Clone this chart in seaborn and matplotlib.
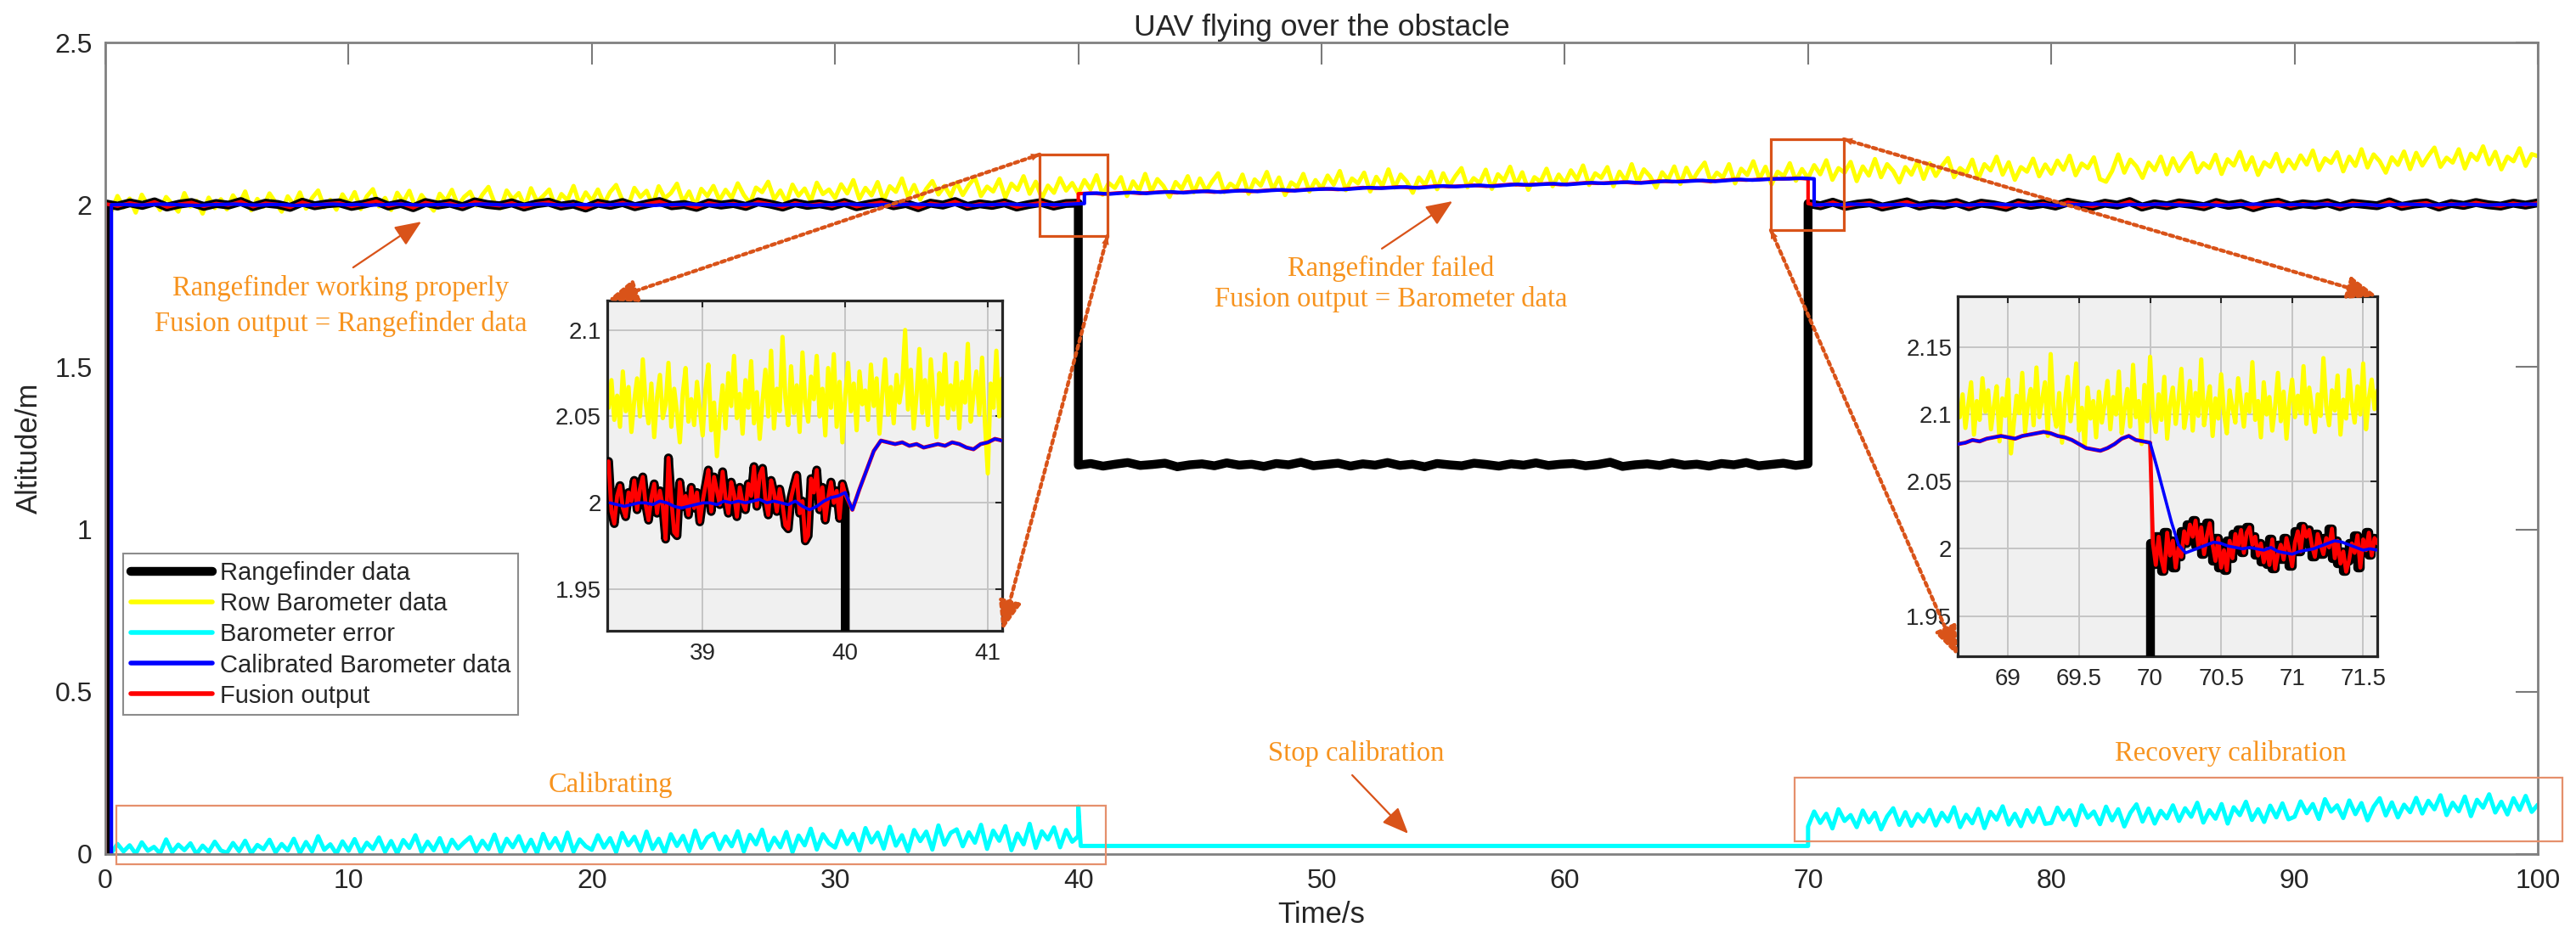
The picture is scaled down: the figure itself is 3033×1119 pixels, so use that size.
import numpy as np
import matplotlib
matplotlib.use("Agg")
import matplotlib.pyplot as plt
import seaborn as sns
from matplotlib.patches import Rectangle, ConnectionPatch
from matplotlib.ticker import FuncFormatter

# ---------------- DATA ----------------
# Row barometer altitude (m), t = 0 .. 100 s every 0.25 s
yellow_alt = [
    2.010, 1.981, 2.027, 1.992, 2.019, 1.976, 2.031, 1.998, 2.015, 1.984, 2.024, 2.002, 1.979, 2.036, 1.995, 2.012, 1.973, 2.022, 1.990, 2.017,
    1.986, 2.029, 2.001, 2.041, 1.983, 2.018, 1.994, 2.035, 2.007, 1.979, 2.026, 1.999, 2.038, 1.988, 2.021, 2.044, 1.992, 2.015, 1.985, 2.032,
    2.003, 2.039, 1.987, 2.026, 2.048, 1.995, 2.021, 1.984, 2.037, 2.009, 2.043, 1.991, 2.030, 2.005, 1.982, 2.034, 2.012, 2.046, 1.997, 2.024,
    2.040, 1.998, 2.031, 2.055, 2.006, 1.990, 2.044, 2.017, 2.036, 1.995, 2.051, 2.010, 2.027, 2.047, 1.993, 2.033, 2.014, 2.058, 2.001, 2.038,
    2.012, 2.047, 2.003, 2.039, 2.061, 2.015, 1.997, 2.052, 2.024, 2.043, 2.000, 2.057, 2.020, 2.036, 2.065, 2.009, 2.041, 1.996, 2.049, 2.027,
    2.058, 2.014, 2.046, 2.021, 2.066, 2.030, 2.005, 2.053, 2.039, 2.071, 2.017, 2.044, 2.008, 2.062, 2.028, 2.050, 2.011, 2.068, 2.033, 2.047,
    2.021, 2.063, 2.035, 2.076, 2.018, 2.052, 2.029, 2.070, 2.013, 2.057, 2.040, 2.081, 2.024, 2.061, 2.016, 2.049, 2.073, 2.032, 2.058, 2.026,
    2.069, 2.030, 2.061, 2.084, 2.027, 2.056, 2.041, 2.079, 2.022, 2.065, 2.046, 2.088, 2.034, 2.071, 2.020, 2.059, 2.037, 2.082, 2.044, 2.067,
    2.035, 2.076, 2.048, 2.091, 2.031, 2.067, 2.052, 2.085, 2.027, 2.072, 2.044, 2.095, 2.040, 2.079, 2.058, 2.024, 2.070, 2.049, 2.088, 2.038,
    2.081, 2.043, 2.072, 2.097, 2.039, 2.065, 2.051, 2.093, 2.034, 2.078, 2.059, 2.101, 2.047, 2.084, 2.030, 2.069, 2.055, 2.095, 2.041, 2.076,
    2.050, 2.090, 2.062, 2.104, 2.045, 2.081, 2.066, 2.099, 2.041, 2.086, 2.058, 2.109, 2.053, 2.093, 2.072, 2.037, 2.084, 2.061, 2.102, 2.048,
    2.097, 2.058, 2.088, 2.113, 2.054, 2.082, 2.067, 2.108, 2.049, 2.094, 2.075, 2.117, 2.062, 2.100, 2.046, 2.085, 2.071, 2.111, 2.057, 2.093,
    2.066, 2.106, 2.078, 2.121, 2.061, 2.097, 2.083, 2.116, 2.057, 2.102, 2.074, 2.125, 2.069, 2.109, 2.088, 2.053, 2.100, 2.077, 2.118, 2.064,
    2.114, 2.075, 2.105, 2.130, 2.071, 2.099, 2.084, 2.125, 2.066, 2.111, 2.092, 2.134, 2.079, 2.117, 2.063, 2.102, 2.088, 2.128, 2.074, 2.110,
    2.082, 2.122, 2.094, 2.137, 2.077, 2.113, 2.099, 2.132, 2.073, 2.118, 2.090, 2.141, 2.085, 2.125, 2.104, 2.069, 2.116, 2.093, 2.134, 2.080,
    2.128, 2.089, 2.119, 2.144, 2.085, 2.113, 2.098, 2.139, 2.080, 2.125, 2.106, 2.148, 2.093, 2.131, 2.077, 2.116, 2.102, 2.142, 2.088, 2.124,
    2.096, 2.136, 2.108, 2.151, 2.091, 2.127, 2.113, 2.146, 2.079, 2.071, 2.104, 2.155, 2.099, 2.139, 2.118, 2.083, 2.130, 2.107, 2.148, 2.094,
    2.143, 2.104, 2.134, 2.159, 2.100, 2.128, 2.113, 2.154, 2.095, 2.140, 2.121, 2.163, 2.108, 2.146, 2.092, 2.131, 2.117, 2.157, 2.103, 2.139,
    2.112, 2.152, 2.124, 2.167, 2.107, 2.143, 2.129, 2.162, 2.103, 2.148, 2.120, 2.171, 2.115, 2.155, 2.134, 2.099, 2.146, 2.123, 2.164, 2.110,
    2.160, 2.121, 2.151, 2.176, 2.117, 2.145, 2.130, 2.171, 2.112, 2.157, 2.138, 2.180, 2.125, 2.163, 2.109, 2.148, 2.134, 2.174, 2.120, 2.156,
    2.150]

# Barometer error (m): calibrating 0..40 s and recovery 70..100 s, every 0.25 s
cyan_cal = [
    0.024, 0.003, 0.031, 0.008, 0.027, 0.001, 0.036, 0.010, 0.022, 0.002, 0.045, 0.006, 0.029, 0.012, 0.033, 0.000, 0.026, 0.007, 0.038, 0.011,
    0.004, 0.034, 0.009, 0.041, 0.002, 0.028, 0.015, 0.044, 0.005, 0.031, 0.011, 0.047, 0.003, 0.037, 0.008, 0.055, 0.013, 0.030, 0.001, 0.039,
    0.010, 0.046, 0.004, 0.035, 0.016, 0.051, 0.007, 0.040, 0.002, 0.043, 0.019, 0.058, 0.006, 0.038, 0.012, 0.049, 0.003, 0.044, 0.017, 0.036,
    0.052, 0.008, 0.041, 0.015, 0.060, 0.005, 0.047, 0.021, 0.055, 0.009, 0.044, 0.003, 0.062, 0.018, 0.049, 0.011, 0.066, 0.007, 0.045, 0.024,
    0.013, 0.058, 0.020, 0.049, 0.006, 0.065, 0.027, 0.053, 0.010, 0.069, 0.016, 0.047, 0.004, 0.061, 0.025, 0.056, 0.009, 0.072, 0.019, 0.051,
    0.063, 0.015, 0.054, 0.024, 0.070, 0.008, 0.059, 0.030, 0.075, 0.012, 0.050, 0.021, 0.068, 0.006, 0.057, 0.027, 0.078, 0.014, 0.061, 0.033,
    0.020, 0.071, 0.031, 0.062, 0.011, 0.080, 0.036, 0.066, 0.017, 0.084, 0.026, 0.058, 0.009, 0.074, 0.040, 0.069, 0.014, 0.088, 0.029, 0.065,
    0.076, 0.024, 0.067, 0.035, 0.090, 0.016, 0.072, 0.041, 0.086, 0.012, 0.063, 0.030, 0.093, 0.019, 0.070, 0.045, 0.082, 0.021, 0.074, 0.038,
    0.055]
cyan_stop_t = [40.0, 40.1, 70.0]
cyan_stop = [0.146, 0.025, 0.025]
cyan_recal = [
    0.085, 0.131, 0.096, 0.124, 0.079, 0.138, 0.102, 0.120, 0.083, 0.134, 0.098, 0.127, 0.076, 0.116, 0.141, 0.090, 0.129, 0.087, 0.123, 0.100,
    0.136, 0.088, 0.127, 0.101, 0.144, 0.083, 0.121, 0.095, 0.139, 0.080, 0.130, 0.106, 0.147, 0.091, 0.124, 0.086, 0.135, 0.099, 0.142, 0.093,
    0.096, 0.143, 0.107, 0.135, 0.089, 0.150, 0.112, 0.131, 0.092, 0.146, 0.104, 0.138, 0.085, 0.127, 0.153, 0.100, 0.140, 0.094, 0.133, 0.110,
    0.150, 0.102, 0.141, 0.115, 0.158, 0.097, 0.135, 0.109, 0.154, 0.094, 0.144, 0.120, 0.161, 0.105, 0.138, 0.099, 0.149, 0.113, 0.156, 0.107,
    0.115, 0.162, 0.126, 0.154, 0.108, 0.169, 0.131, 0.150, 0.111, 0.165, 0.123, 0.157, 0.104, 0.146, 0.172, 0.119, 0.159, 0.113, 0.152, 0.129,
    0.173, 0.125, 0.164, 0.138, 0.181, 0.120, 0.158, 0.132, 0.177, 0.117, 0.167, 0.143, 0.184, 0.128, 0.161, 0.122, 0.172, 0.136, 0.179, 0.130,
    0.152]

# Rangefinder altitude (m): start value, then working (0-40 s), failed (40-70 s), working (70-100 s)
rf_start = 0.0
rf_a = [
    2.003, 1.996, 2.006, 1.998, 2.009, 1.993, 2.002, 2.007, 1.995, 2.004, 1.999, 2.010, 1.994, 2.005, 2.001, 1.992, 2.008, 1.997, 2.003, 2.006,
    1.995, 2.002, 2.011, 1.996, 2.004, 1.991, 2.007, 1.999, 2.005, 1.994, 2.009, 2.001, 1.997, 2.006, 1.993, 2.003, 2.008, 1.996, 2.002, 1.990,
    2.005, 1.998, 2.007, 1.994, 2.003, 2.010, 1.997, 2.001, 1.992, 2.006, 1.999, 2.004, 1.995, 2.009, 2.002, 1.993, 2.006, 1.998, 2.003, 1.996,
    2.007, 1.994, 2.002, 2.008, 1.997, 2.004, 1.991, 2.005, 1.999, 2.010, 1.995, 2.003, 1.998, 2.006, 1.993, 2.001, 2.007, 1.996, 2.004, 2.005]
rf_b = [
    1.198, 1.203, 1.195, 1.201, 1.206, 1.197, 1.200, 1.204, 1.193, 1.199, 1.202, 1.196, 1.205, 1.198, 1.201, 1.194, 1.203, 1.199, 1.207, 1.196,
    1.200, 1.204, 1.195, 1.202, 1.198, 1.206, 1.197, 1.201, 1.193, 1.203, 1.199, 1.196, 1.204, 1.200, 1.195, 1.202, 1.198, 1.205, 1.197, 1.201,
    1.203, 1.196, 1.200, 1.207, 1.194, 1.199, 1.202, 1.197, 1.205, 1.198, 1.201, 1.195, 1.203, 1.199, 1.206, 1.196, 1.200, 1.204, 1.197, 1.202]
rf_c = [
    2.004, 1.997, 2.008, 1.995, 2.002, 2.006, 1.993, 2.001, 2.009, 1.996, 2.003, 1.999, 2.007, 1.994, 2.005, 2.000, 1.992, 2.006, 1.998, 2.004,
    1.996, 2.008, 2.001, 1.995, 2.005, 1.999, 2.010, 1.993, 2.003, 1.997, 2.006, 2.001, 1.994, 2.007, 1.998, 2.004, 1.991, 2.002, 2.008, 1.996,
    2.003, 1.999, 2.006, 1.994, 2.005, 2.001, 1.997, 2.009, 1.995, 2.002, 2.006, 1.993, 2.004, 1.998, 2.007, 2.000, 1.996, 2.005, 1.999, 2.006]

# Calibrated barometer altitude (m), same three phases (switch-over about 0.25 s later)
blue_start = 0.0
blue_a = [
    2.000, 2.001, 1.999, 2.000, 2.002, 2.001, 1.999, 1.998, 2.000, 2.001, 2.002, 2.000, 1.999, 2.001, 2.000, 1.998, 1.999, 2.001, 2.002, 2.000,
    2.001, 1.999, 2.000, 2.002, 2.001, 1.999, 2.000, 2.001, 1.998, 2.000, 2.002, 2.001, 1.999, 2.000, 2.001, 2.002, 2.000, 1.999, 2.001, 2.000,
    1.999, 2.001, 2.002, 2.000, 1.998, 2.000, 2.001, 2.002, 2.000, 1.999, 2.001, 2.000, 2.002, 2.001, 1.999, 2.000, 2.001, 1.998, 2.000, 2.001,
    2.002, 2.000, 1.999, 2.001, 2.000, 2.002, 2.001, 1.999, 2.000, 2.001, 1.998, 2.000, 2.001, 2.002, 2.000, 1.999, 2.001, 2.000, 2.002, 2.004]
blue_b = [
    2.034, 2.036, 2.033, 2.036, 2.038, 2.035, 2.038, 2.040, 2.037, 2.040, 2.042, 2.039, 2.042, 2.044, 2.041, 2.044, 2.046, 2.043, 2.046, 2.048,
    2.049, 2.047, 2.050, 2.053, 2.051, 2.053, 2.055, 2.052, 2.055, 2.058, 2.056, 2.058, 2.060, 2.057, 2.060, 2.063, 2.061, 2.063, 2.065, 2.062,
    2.065, 2.068, 2.066, 2.068, 2.070, 2.067, 2.070, 2.073, 2.071, 2.073, 2.075, 2.072, 2.075, 2.078, 2.076, 2.078, 2.080, 2.080, 2.082, 2.080]
blue_c = [
    1.999, 2.001, 2.000, 2.002, 2.001, 1.999, 2.000, 2.001, 1.998, 2.000, 2.002, 2.001, 1.999, 2.000, 2.001, 2.002, 2.000, 1.999, 2.001, 2.000,
    1.998, 2.000, 2.001, 2.002, 2.000, 1.999, 2.001, 2.000, 2.002, 2.001, 1.999, 2.000, 2.001, 1.998, 2.000, 2.001, 2.002, 2.000, 1.999, 2.001,
    2.000, 2.002, 2.001, 1.999, 2.000, 2.001, 1.998, 2.000, 2.002, 2.001, 1.999, 2.000, 2.001, 2.002, 2.000, 1.999, 2.001, 2.000, 2.002, 2.001]

# ---- zoom 1: 38.34 .. 41.10 s
z1_yellow = [
    2.055, 2.071, 2.048, 2.062, 2.044, 2.076, 2.053, 2.067, 2.041, 2.059,
    2.072, 2.050, 2.083, 2.058, 2.046, 2.069, 2.038, 2.061, 2.074, 2.049,
    2.057, 2.081, 2.044, 2.066, 2.052, 2.035, 2.063, 2.078, 2.047, 2.060,
    2.045, 2.070, 2.054, 2.039, 2.066, 2.080, 2.042, 2.058, 2.027, 2.051,
    2.068, 2.043, 2.075, 2.056, 2.085, 2.049, 2.063, 2.040, 2.071, 2.055,
    2.082, 2.046, 2.064, 2.037, 2.059, 2.077, 2.050, 2.088, 2.043, 2.066,
    2.053, 2.096, 2.061, 2.045, 2.079, 2.052, 2.068, 2.041, 2.087, 2.058,
    2.047, 2.073, 2.060, 2.085, 2.050, 2.066, 2.039, 2.078, 2.055, 2.086,
    2.044, 2.070, 2.035, 2.062, 2.081, 2.053, 2.069, 2.042, 2.076, 2.057,
    2.065, 2.048, 2.080, 2.056, 2.072, 2.040, 2.063, 2.083, 2.051, 2.067,
    2.046, 2.074, 2.058, 2.069, 2.100, 2.054, 2.077, 2.043, 2.062, 2.089,
    2.052, 2.071, 2.045, 2.083, 2.060, 2.038, 2.075, 2.057, 2.086, 2.049,
    2.068, 2.054, 2.081, 2.043, 2.070, 2.058, 2.092, 2.047, 2.063, 2.076,
    2.051, 2.084, 2.046, 2.017, 2.069, 2.055, 2.088, 2.050, 2.072]
# rangefinder / fusion output 38.34 .. 40.00 s
z1_range = [
    2.024, 1.995, 1.988, 2.004, 2.010, 1.997, 1.992, 2.006, 2.001, 2.013,
    1.996, 2.008, 2.015, 1.999, 1.990, 2.003, 2.011, 1.994, 2.007, 1.998,
    1.979, 2.026, 2.002, 1.983, 1.981, 2.012, 1.998, 2.004, 1.993, 2.009,
    1.997, 2.006, 1.989, 2.001, 2.010, 2.019, 1.995, 2.015, 2.007, 1.999,
    2.018, 2.003, 1.994, 2.012, 2.005, 1.992, 2.009, 2.000, 1.996, 2.011,
    2.004, 2.021, 1.998, 2.016, 2.020, 2.002, 1.993, 2.013, 2.006, 1.995,
    2.008, 1.999, 1.987, 1.985, 2.003, 2.010, 2.016, 1.994, 2.001, 1.978,
    1.981, 2.014, 2.006, 2.019, 1.996, 2.009, 1.990, 2.003, 2.012, 2.000,
    2.007, 1.991, 2.011, 2.005]
# calibrated barometer 38.35 .. 41.10 s
z1_blue = [
    2.000, 1.999, 1.998, 1.999, 2.000, 2.000, 1.999, 2.001, 2.000, 1.998,
    1.997, 1.998, 1.999, 2.000, 2.000, 1.999, 2.001, 2.000, 2.001, 2.000,
    2.001, 2.002, 2.000, 2.001, 2.000, 1.999, 2.001, 1.998, 1.996, 1.998,
    2.001, 2.003, 2.004, 2.006, 1.996, 2.008, 2.019, 2.030, 2.036, 2.035,
    2.034, 2.035, 2.033, 2.034, 2.032, 2.033, 2.034, 2.033, 2.035, 2.034,
    2.032, 2.031, 2.034, 2.035, 2.037, 2.036]

# ---- zoom 2: 68.66 .. 71.60 s
z2_yellow = [
    2.098, 2.115, 2.090, 2.107, 2.124, 2.085, 2.110, 2.096, 2.127, 2.102,
    2.118, 2.089, 2.106, 2.121, 2.080, 2.112, 2.099, 2.126, 2.071, 2.093,
    2.114, 2.101, 2.131, 2.087, 2.108, 2.119, 2.092, 2.135, 2.098, 2.111,
    2.124, 2.084, 2.145, 2.103, 2.091, 2.116, 2.079, 2.109, 2.128, 2.095,
    2.113, 2.138, 2.088, 2.105, 2.076, 2.120, 2.097, 2.110, 2.083, 2.117,
    2.094, 2.108, 2.125, 2.089, 2.113, 2.100, 2.132, 2.086, 2.104, 2.119,
    2.091, 2.137, 2.098, 2.110, 2.078, 2.122, 2.095, 2.143, 2.101, 2.087,
    2.115, 2.096, 2.128, 2.082, 2.107, 2.120, 2.093, 2.111, 2.134, 2.090,
    2.103, 2.125, 2.088, 2.116, 2.099, 2.141, 2.092, 2.108, 2.121, 2.084,
    2.112, 2.097, 2.130, 2.101, 2.086, 2.118, 2.105, 2.094, 2.127, 2.109,
    2.091, 2.115, 2.102, 2.139, 2.096, 2.110, 2.083, 2.124, 2.100, 2.113,
    2.088, 2.106, 2.131, 2.095, 2.117, 2.082, 2.109, 2.126, 2.098, 2.114,
    2.101, 2.136, 2.093, 2.120, 2.104, 2.087, 2.115, 2.099, 2.142, 2.106,
    2.092, 2.118, 2.103, 2.129, 2.085, 2.111, 2.097, 2.133, 2.108, 2.094,
    2.121, 2.100, 2.138, 2.089, 2.112, 2.126, 2.104, 2.118]
# calibrated barometer 68.65 .. 71.60 s
z2_blue = [
    2.078, 2.079, 2.081, 2.080, 2.082, 2.083, 2.084, 2.083, 2.082, 2.084,
    2.085, 2.086, 2.087, 2.086, 2.084, 2.083, 2.081, 2.078, 2.075, 2.074,
    2.073, 2.075, 2.078, 2.082, 2.084, 2.081, 2.080, 2.079, 2.060, 2.040,
    2.020, 2.003, 1.997, 1.999, 2.001, 2.003, 2.005, 2.004, 2.002, 2.001,
    2.000, 2.001, 2.000, 1.999, 2.001, 1.998, 1.997, 1.996, 1.998, 1.999,
    2.000, 2.002, 2.004, 2.006, 2.005, 2.003, 2.001, 1.999, 2.000, 1.999]
# rangefinder / fusion output 70.02 .. 71.60 s
z2_range = [
    2.004, 1.988, 2.009, 1.992, 1.983, 2.012, 1.995, 2.006, 1.986, 2.001,
    1.994, 2.013, 2.004, 2.018, 2.009, 2.021, 2.002, 2.016, 1.996, 2.010,
    2.019, 2.003, 1.991, 2.008, 1.986, 1.999, 1.984, 2.006, 1.993, 2.011,
    2.002, 2.014, 1.997, 2.012, 2.016, 2.003, 2.009, 1.995, 2.004, 1.990,
    2.000, 1.988, 2.007, 1.985, 1.996, 2.003, 1.992, 2.008, 1.999, 1.987,
    2.005, 2.013, 1.998, 2.017, 2.009, 2.014, 2.002, 1.994, 2.011, 2.003,
    1.996, 2.008, 2.001, 2.015, 1.993, 2.006, 1.989, 1.998, 1.983, 1.991,
    2.004, 1.997, 2.010, 1.986, 2.007, 1.999, 2.012, 1.995, 2.008, 2.004]

series_labels = ["Rangefinder data", "Row Barometer data", "Barometer error",
                 "Calibrated Barometer data", "Fusion output"]
x_ticks = [0, 10, 20, 30, 40, 50, 60, 70, 80, 90, 100]
y_ticks = [0, 0.5, 1, 1.5, 2, 2.5]
z1_xticks = [39, 40, 41]
z1_yticks = [1.95, 2, 2.05, 2.1]
z2_xticks = [69, 69.5, 70, 70.5, 71, 71.5]
z2_yticks = [1.95, 2, 2.05, 2.1, 2.15]

# ---------------- STYLE ----------------
sns.set_theme(style="white")
plt.rcParams["font.family"] = ["Liberation Sans", "DejaVu Sans"]
SERIF = ["Liberation Serif", "DejaVu Serif"]
C_BLACK, C_YEL, C_CYAN, C_BLUE, C_RED = "#000000", "#FFFF00", "#00FFFF", "#0000FF", "#FF0000"
C_TXT = "#F7931E"
C_ARR = "#D95319"
C_BOX = "#E5906C"
TXT = "#262626"

# ---------------- TIME AXES ----------------
t_yel = np.linspace(0, 100, len(yellow_alt))
t_cal = np.linspace(0, 40, len(cyan_cal))
t_rec = np.linspace(70, 100, len(cyan_recal))
cyan_t = np.r_[t_cal, cyan_stop_t, t_rec]
cyan_v = np.r_[cyan_cal, cyan_stop, cyan_recal]

# phase boundaries repeat a time value so that the switch is drawn vertical
ta_r = np.linspace(0, 40, len(rf_a)); tb_r = np.linspace(40, 70, len(rf_b)); tc_r = np.linspace(70, 100, len(rf_c))
ta_b = np.linspace(0.25, 40.25, len(blue_a)); tb_b = np.linspace(40.25, 70.25, len(blue_b)); tc_b = np.linspace(70.25, 100, len(blue_c))
tb_f = np.linspace(40, 70, len(blue_b))
rf_t = np.r_[0.0, ta_r, tb_r, tc_r]
rf_v = np.r_[rf_start, rf_a, rf_b, rf_c]
blue_t = np.r_[0.25, ta_b, tb_b, tc_b]
blue_v = np.r_[blue_start, blue_a, blue_b, blue_c]
red_t = np.r_[0.0, ta_r, tb_f, tc_r]
red_v = np.r_[rf_start, rf_a, blue_b, rf_c]

fig = plt.figure(figsize=(30.33, 11.19), dpi=100)
ax = fig.add_axes([0.04088, 0.1010, 0.9443, 0.8543])


def draw(a, x, y, color, lw, z, ds="default", label=None):
    sns.lineplot(x=np.asarray(x, float), y=np.asarray(y, float), ax=a, color=color,
                 linewidth=lw, estimator=None, sort=False, errorbar=None,
                 legend=False, drawstyle=ds, zorder=z, label=label)
    return a.lines[-1]


h_cyan = draw(ax, cyan_t, cyan_v, C_CYAN, 3.6, 2, label=series_labels[2])
h_yel = draw(ax, t_yel, yellow_alt, C_YEL, 3.6, 2.1, label=series_labels[1])
h_blk = draw(ax, rf_t, rf_v, C_BLACK, 7.5, 2.2, label=series_labels[0])
h_red = draw(ax, red_t, red_v, C_RED, 3.0, 2.3, label=series_labels[4])
h_blue = draw(ax, blue_t, blue_v, C_BLUE, 3.0, 2.4, label=series_labels[3])

fmt = FuncFormatter(lambda v, p: "%g" % v)
ax.set_xlim(0, 100)
ax.set_ylim(0, 2.5)
ax.set_xticks(x_ticks)
ax.set_yticks(y_ticks)
ax.xaxis.set_major_formatter(fmt)
ax.yaxis.set_major_formatter(fmt)
ax.tick_params(axis="both", direction="in", length=19, width=1.5, color="#7a7a7a",
               labelcolor=TXT, labelsize=23, top=True, right=True)
ax.tick_params(axis="x", pad=12)
ax.tick_params(axis="y", pad=11)
for s in ax.spines.values():
    s.set_color("#808080")
    s.set_linewidth(2.0)
ax.set_xlabel("Time/s", fontsize=25, color=TXT, labelpad=6)
ax.set_ylabel("Altitude/m", fontsize=25, color=TXT, labelpad=10)
ax.set_title("UAV flying over the obstacle", fontsize=25.5, color=TXT, pad=6)
ax.grid(False)

leg = ax.legend([h_blk, h_yel, h_cyan, h_blue, h_red], series_labels, loc="upper left",
                bbox_to_anchor=(0.0073, 0.370), fontsize=21, frameon=True, fancybox=False,
                edgecolor="#8c8c8c", framealpha=1, borderpad=0.3, labelspacing=0.28,
                handlelength=3.3, handletextpad=0.3, borderaxespad=0)
leg.get_frame().set_linewidth(1.5)
for t in leg.get_texts():
    t.set_color(TXT)
for h in leg.legend_handles[1:]:
    h.set_linewidth(4.0)
leg.set_zorder(10)

# annotation texts
ann = dict(color=C_TXT, fontsize=23.5, family=SERIF, ha="center", va="center", zorder=8)
ax.text(9.67, 1.742, "Rangefinder working properly", **ann)
ax.text(9.67, 1.632, "Fusion output = Rangefinder data", **ann)
ax.text(52.86, 1.804, "Rangefinder failed", **ann)
ax.text(52.86, 1.708, "Fusion output = Barometer data", **ann)
ax.text(20.78, 0.214, "Calibrating", **ann)
ax.text(51.43, 0.309, "Stop calibration", **ann)
ax.text(87.36, 0.309, "Recovery calibration", **ann)

arr = dict(arrowstyle="-|>,head_length=1.0,head_width=0.42", mutation_scale=19,
           color=C_ARR, lw=1.6, shrinkA=0, shrinkB=0)
ax.annotate("", xy=(12.99, 1.948), xytext=(10.19, 1.807), arrowprops=arr, zorder=8)
ax.annotate("", xy=(55.38, 2.011), xytext=(52.48, 1.865), arrowprops=arr, zorder=8)
ax.annotate("", xy=(53.56, 0.063), xytext=(51.26, 0.243), arrowprops=arr, zorder=8)

# boxes
ax.add_patch(Rectangle((0.45, -0.031), 40.68, 0.180, fill=False, ec=C_BOX, lw=1.6, clip_on=False, zorder=7))
ax.add_patch(Rectangle((69.45, 0.039), 31.55, 0.196, fill=False, ec=C_BOX, lw=1.6, clip_on=False, zorder=7))
ax.add_patch(Rectangle((38.41, 1.904), 2.79, 0.251, fill=False, ec=C_ARR, lw=2.3, zorder=7))
ax.add_patch(Rectangle((68.47, 1.922), 3.00, 0.280, fill=False, ec=C_ARR, lw=2.3, zorder=7))


# ---------------- INSETS ----------------
def style_inset(a, xl, yl, xt, yt):
    a.set_facecolor("#F0F0F0")
    a.set_xlim(*xl)
    a.set_ylim(*yl)
    a.set_xticks(xt)
    a.set_yticks(yt)
    a.xaxis.set_major_formatter(fmt)
    a.yaxis.set_major_formatter(fmt)
    a.grid(True, color="#C4C4C4", lw=1.4)
    a.set_axisbelow(True)
    a.tick_params(direction="in", length=6, width=1.5, color=TXT, labelcolor=TXT,
                  labelsize=20, top=True, right=True)
    a.tick_params(axis="x", pad=10)
    a.tick_params(axis="y", pad=5)
    for s in a.spines.values():
        s.set_color(TXT)
        s.set_linewidth(2.3)
    a.set_xlabel("")
    a.set_ylabel("")


ins1 = fig.add_axes([0.2357, 0.3360, 0.1533, 0.3476])
z1_ty = np.linspace(38.34, 41.10, len(z1_yellow))
z1_tr = np.linspace(38.34, 40.00, len(z1_range))
z1_tb = np.linspace(38.35, 41.10, len(z1_blue))
after40 = z1_tb > 40.0
draw(ins1, z1_ty, z1_yellow, C_YEL, 3.6, 2)
draw(ins1, np.r_[z1_tr, tb_r], np.r_[z1_range, rf_b], C_BLACK, 7.5, 3)
draw(ins1, np.r_[z1_tr, z1_tb[after40]], np.r_[z1_range, np.asarray(z1_blue)[after40]], C_RED, 3.4, 4)
draw(ins1, z1_tb, z1_blue, C_BLUE, 2.6, 5)
style_inset(ins1, (38.33, 41.1), (1.926, 2.117), z1_xticks, z1_yticks)

ins2 = fig.add_axes([0.7600, 0.3092, 0.1629, 0.3789])
z2_ty = np.linspace(68.66, 71.60, len(z2_yellow))
z2_tb = np.linspace(68.65, 71.60, len(z2_blue))
z2_tr = np.linspace(70.02, 71.60, len(z2_range))
before70 = z2_tb <= 70.0
draw(ins2, z2_ty, z2_yellow, C_YEL, 3.6, 2)
draw(ins2, np.r_[tb_r, z2_tr], np.r_[rf_b, z2_range], C_BLACK, 7.5, 3, ds="steps-pre")
draw(ins2, np.r_[z2_tb[before70], z2_tr], np.r_[np.asarray(z2_blue)[before70], z2_range], C_RED, 3.4, 4)
draw(ins2, z2_tb, z2_blue, C_BLUE, 2.6, 5)
style_inset(ins2, (68.646, 71.6), (1.92, 2.188), z2_xticks, z2_yticks)


# dotted connectors from zoom boxes to insets
def connector(xy, inset, corner):
    con = ConnectionPatch(xyA=xy, coordsA=ax.transData, xyB=corner, coordsB=inset.transAxes,
                          arrowstyle="-|>,head_length=1.1,head_width=0.42", mutation_scale=19,
                          color=C_ARR, lw=3.2, zorder=9, shrinkA=0, shrinkB=0)
    con.set_linestyle((0, (1.0, 1.0)))
    fig.add_artist(con)
    small = ConnectionPatch(xyA=corner, coordsA=inset.transAxes, xyB=xy, coordsB=ax.transData,
                            arrowstyle="-|>,head_length=0.8,head_width=0.35", mutation_scale=9,
                            color=C_ARR, lw=0.0, zorder=9, shrinkA=0, shrinkB=0)
    fig.add_artist(small)


connector((38.41, 2.155), ins1, (0, 1))
connector((41.20, 1.904), ins1, (1, 0))
connector((71.47, 2.202), ins2, (1, 1))
connector((68.47, 1.922), ins2, (0, 0))

fig.savefig("out.png", dpi=100)
